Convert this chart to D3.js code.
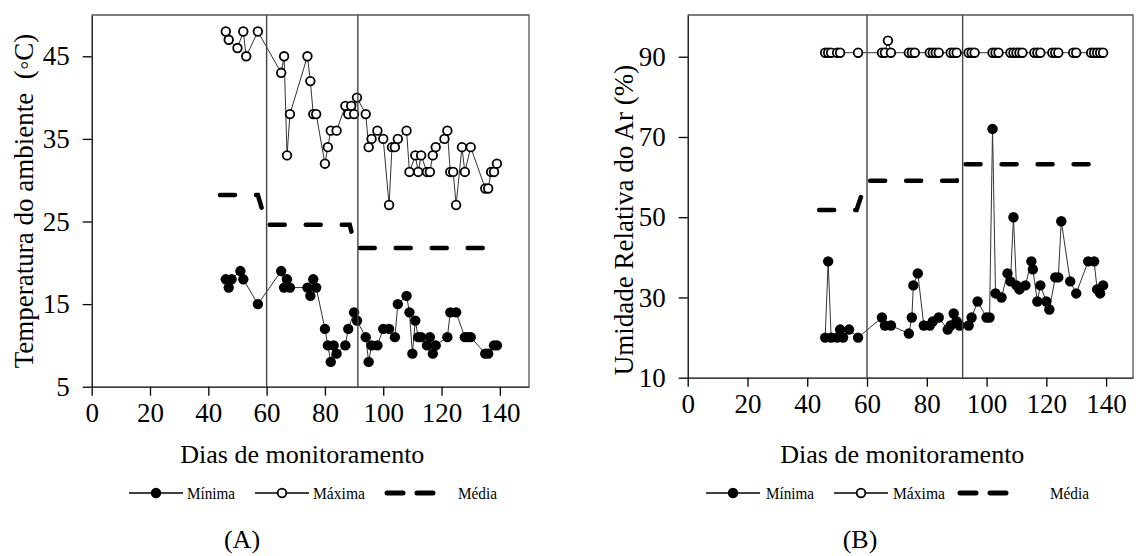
<!DOCTYPE html>
<html>
<head>
<meta charset="utf-8">
<script src="https://cdn.jsdelivr.net/npm/d3@7"></script>
<style>
  html, body { margin: 0; padding: 0; background: #fff; }
  svg { display: block; }
  text { font-family: "Liberation Serif", "Times New Roman", serif; fill: #000; }
</style>
</head>
<body>
<svg id="chart" width="1136" height="556"></svg>
<script>
// ---------------- DATA ----------------
// Panel A: air temperature (°C) by monitoring day
const tempMax = [[46,48],[47,47],[50,46],[52,48],[53,45],[57,48],[65,43],[66,45],[67,33],[68,38],[74,45],[75,42],[76,38],[77,38],[80,32],[81,34],[82,36],[84,36],[87,39],[88,38],[89,39],[90,38],[91,40],[94,38],[95,34],[96,35],[98,36],[100,35],[102,27],[103,34],[104,34],[105,35],[108,36],[109,31],[111,33],[112,31],[113,33],[115,31],[116,31],[117,33],[118,34],[121,35],[122,36],[123,31],[124,31],[125,27],[127,34],[128,31],[130,34],[135,29],[136,29],[137,31],[138,31],[139,32]];
const tempMin = [[46,18],[47,17],[48,18],[51,19],[52,18],[57,15],[65,19],[66,17],[67,18],[68,17],[74,17],[75,16],[76,18],[77,17],[80,12],[81,10],[82,8],[83,10],[84,9],[87,10],[88,12],[90,14],[91,13],[94,11],[95,8],[96,10],[98,10],[100,12],[102,12],[104,11],[105,15],[108,16],[109,14],[110,9],[111,13],[112,11],[113,11],[115,10],[116,11],[117,9],[118,10],[122,11],[123,14],[125,14],[128,11],[129,11],[130,11],[135,9],[136,9],[138,10],[139,10]];
const tempMean = [[44,28.2],[57,28.2],[60,24.6],[88.5,24.6],[90.5,21.8],[141,21.8]];
const tempPhases = [60, 91.3];
const tempTicksY = [5, 15, 25, 35, 45];

// Panel B: relative air humidity (%) by monitoring day
const rhMax = [[46,91],[47,91],[48,91],[50,91],[51,91],[57,91],[65,91],[66,91],[67,94],[68,91],[74,91],[75,91],[76,91],[81,91],[82,91],[83,91],[84,91],[88,91],[89,91],[90,91],[94,91],[95,91],[96,91],[102,91],[103,91],[104,91],[108,91],[109,91],[110,91],[111,91],[112,91],[116,91],[117,91],[118,91],[122,91],[123,91],[124,91],[129,91],[130,91],[135,91],[136,91],[137,91],[138,91],[139,91]];
const rhMin = [[46,20],[47,39],[48,20],[50,20],[51,22],[52,20],[54,22],[57,20],[65,25],[66,23],[68,23],[74,21],[75,25],[75.5,33],[77,36],[79,23],[81,23],[82,24],[84,25],[87,22],[88,23],[89,26],[90,24],[91,23],[94,23],[95,25],[97,29],[100,25],[101,25],[102,72],[103,31],[105,30],[107,36],[108,34],[109,50],[110,33],[111,32],[113,33],[115,39],[115.5,37],[117,29],[118,33],[120,29],[121,27],[123,35],[124,35],[125,49],[128,34],[130,31],[134,39],[136,39],[137,32],[138,31],[139,33]];
const rhMean = [[44,51.8],[56.5,51.8],[59.8,59.1],[90,59.1],[91.5,63.2],[141,63.2]];
const rhPhases = [60, 92];
const rhTicksY = [10, 30, 50, 70, 90];

const dayTicks = [0, 20, 40, 60, 80, 100, 120, 140];
const xTitle = "Dias de monitoramento";
const legendLabels = ["Mínima", "Máxima", "Média"];

// ---------------- DRAW ----------------
const svg = d3.select("#chart");
svg.append("rect").attr("width", 1136).attr("height", 556).attr("fill", "#fff");

function panel(cfg) {
  const g = svg.append("g");
  const x = d3.scaleLinear().domain(cfg.xDomain).range([cfg.left, cfg.right]);
  const y = d3.scaleLinear().domain(cfg.yDomain).range([cfg.bottom, cfg.top]);

  // frame (top & right)
  g.append("path")
    .attr("d", `M${cfg.left},${cfg.top}H${cfg.right}V${cfg.bottom}`)
    .attr("fill", "none").attr("stroke", "#555").attr("stroke-width", 1.3);

  // axes
  const ax = g.append("g").attr("transform", `translate(0,${cfg.bottom})`)
    .call(d3.axisBottom(x).tickValues(dayTicks).tickSize(9).tickSizeOuter(0).tickPadding(7));
  const ay = g.append("g").attr("transform", `translate(${cfg.left},0)`)
    .call(d3.axisLeft(y).tickValues(cfg.yTicks).tickSize(9).tickSizeOuter(0).tickPadding(13));
  [ax, ay].forEach(a => {
    a.attr("font-family", null);
    a.selectAll("path,line").attr("stroke", "#000").attr("stroke-width", 1.3);
    a.selectAll("text").style("font-family", '"Liberation Serif", serif')
      .style("font-size", "27px").attr("fill", "#000");
  });

  // mean (dashed thick)
  g.append("path")
    .datum(cfg.mean)
    .attr("d", d3.line().x(d => x(d[0])).y(d => y(d[1])))
    .attr("fill", "none").attr("stroke", "#000").attr("stroke-width", 4.5)
    .attr("stroke-linecap", "round").attr("stroke-dasharray", "15,21");

  const line = d3.line().x(d => x(d[0])).y(d => y(d[1]));
  // max series
  g.append("path").datum(cfg.max).attr("d", line)
    .attr("fill", "none").attr("stroke", "#333").attr("stroke-width", 1);
  g.selectAll(null).data(cfg.max).enter().append("circle")
    .attr("cx", d => x(d[0])).attr("cy", d => y(d[1])).attr("r", 4.3)
    .attr("fill", "#fff").attr("stroke", "#000").attr("stroke-width", 1.8);
  // min series
  g.append("path").datum(cfg.min).attr("d", line)
    .attr("fill", "none").attr("stroke", "#333").attr("stroke-width", 1);
  g.selectAll(null).data(cfg.min).enter().append("circle")
    .attr("cx", d => x(d[0])).attr("cy", d => y(d[1])).attr("r", 5.2)
    .attr("fill", "#000");

  // phase separators
  g.selectAll(null).data(cfg.phases).enter().append("line")
    .attr("x1", d => x(d)).attr("x2", d => x(d))
    .attr("y1", cfg.top).attr("y2", cfg.bottom)
    .attr("stroke", "#444").attr("stroke-width", 1.4);

  // titles
  g.append("text").attr("x", (cfg.left + cfg.right) / 2 - 8).attr("y", cfg.xTitleY)
    .attr("text-anchor", "middle").style("font-size", "26px").text(xTitle);
  g.append("text")
    .attr("transform", `translate(${cfg.yTitleX},${cfg.yTitleCY}) rotate(-90)`)
    .attr("text-anchor", "middle").style("font-size", "27px")
    .style("white-space", "pre").text(cfg.yTitle);

  // legend
  const ly = 493;
  const L = cfg.legend;
  const lg = g.append("g");
  lg.append("line").attr("x1", L[0]).attr("x2", L[0] + 54).attr("y1", ly).attr("y2", ly)
    .attr("stroke", "#000").attr("stroke-width", 1.3);
  lg.append("circle").attr("cx", L[0] + 27).attr("cy", ly).attr("r", 5.2).attr("fill", "#000");
  lg.append("text").attr("x", L[1]).attr("y", ly + 6).style("font-size", "17px")
    .attr("textLength", 48).attr("lengthAdjust", "spacingAndGlyphs").text(legendLabels[0]);
  lg.append("line").attr("x1", L[2]).attr("x2", L[2] + 54).attr("y1", ly).attr("y2", ly)
    .attr("stroke", "#000").attr("stroke-width", 1.3);
  lg.append("circle").attr("cx", L[2] + 27).attr("cy", ly).attr("r", 4.3)
    .attr("fill", "#fff").attr("stroke", "#000").attr("stroke-width", 1.8);
  lg.append("text").attr("x", L[3]).attr("y", ly + 6).style("font-size", "17px")
    .attr("textLength", 52).attr("lengthAdjust", "spacingAndGlyphs").text(legendLabels[1]);
  lg.append("line").attr("x1", L[4]).attr("x2", L[4] + 50).attr("y1", ly).attr("y2", ly)
    .attr("stroke", "#000").attr("stroke-width", 5).attr("stroke-linecap", "round")
    .attr("stroke-dasharray", "16,14");
  lg.append("text").attr("x", L[5]).attr("y", ly + 6).style("font-size", "17px")
    .attr("textLength", 39).attr("lengthAdjust", "spacingAndGlyphs").text(legendLabels[2]);

  // panel label
  g.append("text").attr("x", cfg.panelX).attr("y", 548).attr("text-anchor", "middle")
    .style("font-size", "26px").text(cfg.panel);
}

panel({
  left: 91.7, right: 529, top: 15, bottom: 386.7,
  xDomain: [0, 150], yDomain: [5, 50], yTicks: tempTicksY,
  max: tempMax, min: tempMin, mean: tempMean, phases: tempPhases,
  xTitleY: 463, yTitleX: 33, yTitleCY: 201,
  yTitle: "Temperatura do ambiente  (\u25E6C)",
  legend: [129, 187, 255, 313, 387, 458],
  panelX: 242, panel: "(A)"
});

panel({
  left: 687.7, right: 1133, top: 15, bottom: 377.7,
  xDomain: [0, 149], yDomain: [10, 100.4], yTicks: rhTicksY,
  max: rhMax, min: rhMin, mean: rhMean, phases: rhPhases,
  xTitleY: 463, yTitleX: 633, yTitleCY: 220,
  yTitle: "Umidade Relativa do Ar (%)",
  legend: [706, 766, 834, 893, 960, 1050],
  panelX: 860, panel: "(B)"
});
</script>
</body>
</html>
